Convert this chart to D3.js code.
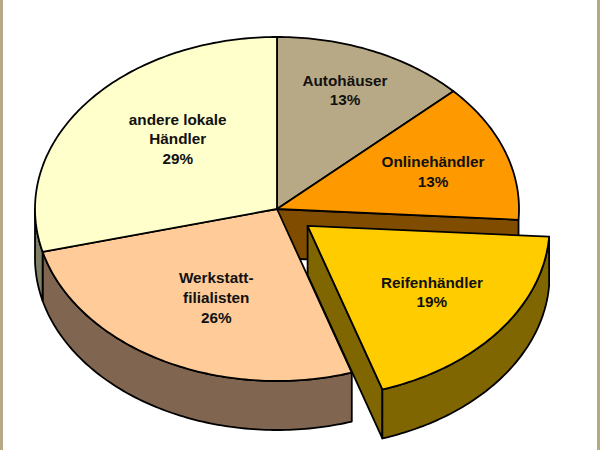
<!DOCTYPE html>
<meta charset="utf-8">
<head>
<style>
body { margin: 0; background: #fff; }
text { font: bold 15.3px "Liberation Sans", Arial, sans-serif; fill: #111; text-anchor: middle; }
.edge { stroke: #000; stroke-width: 1.8; stroke-linejoin: round; }
</style>
</head>
<body>
<script src="https://cdnjs.cloudflare.com/ajax/libs/d3/7.8.5/d3.min.js"></script>
<script>
// shares in percent, clockwise from 12 o'clock
const labels = [["Autohäuser"], ["Onlinehändler"], ["Reifenhändler"], ["Werkstatt-", "filialisten"], ["andere lokale", "Händler"]];
const values = [13, 13, 19, 26, 29];
const topColors = ["#b8a986", "#ff9900", "#ffcc00", "#ffcc99", "#ffffcc"];
const wallColors = ["#5c5543", "#804d00", "#806600", "#806650", "#808066"];
const exploded = [0, 0, 0.16, 0, 0];

const width = 600, height = 450;
const depth = 49;

const x = d3.scaleLinear().domain([-1, 1]).range([35, 519]);
const y = d3.scaleLinear().domain([-1, 1]).range([37, 381]);
const line = d3.line();

const slices = d3.pie().sort(null).value(d => d)(values);
slices.forEach((s, i) => {
  const mid = (s.startAngle + s.endAngle) / 2;
  s.ox = exploded[i] * Math.sin(mid);
  s.oy = -exploded[i] * Math.cos(mid);
});

// tilted pie: unit circle squashed by the two scales
function pt(s, r, a, drop) {
  return [x(r * Math.sin(a) + s.ox), y(-r * Math.cos(a) + s.oy) + (drop || 0)];
}
function rim(s, a0, a1, drop) {
  const n = Math.max(2, Math.ceil((a1 - a0) * 60));
  return d3.range(n + 1).map(i => pt(s, 1, a0 + (a1 - a0) * i / n, drop));
}
function topFace(s) {
  return line([pt(s, 0, 0)].concat(rim(s, s.startAngle, s.endAngle))) + "Z";
}
function outerWall(s, a0, a1) {
  return line(rim(s, a0, a1).concat(rim(s, a0, a1, depth).reverse())) + "Z";
}
function radialWall(s, a) {
  return line([pt(s, 0, 0), pt(s, 1, a), pt(s, 1, a, depth), pt(s, 0, 0, depth)]) + "Z";
}

const svg = d3.select("body").append("svg")
  .attr("width", width)
  .attr("height", height)
  .style("display", "block");

// frame strips left and right
svg.selectAll("rect.frame").data([0, width - 3]).join("rect")
  .attr("class", "frame")
  .attr("x", d => d).attr("y", 0)
  .attr("width", 3).attr("height", height)
  .attr("fill", "#b8a986");

const addPath = (d, fill) => svg.append("path").attr("class", "edge").attr("d", d).attr("fill", fill);

// main pie: walls first, then top faces
const online = slices[1], reifen = slices[2], werk = slices[3], andere = slices[4];
addPath(radialWall(online, online.endAngle), wallColors[1]);
addPath(outerWall(werk, werk.startAngle, werk.endAngle), wallColors[3]);
addPath(outerWall(andere, andere.startAngle, 1.5 * Math.PI), wallColors[4]);
slices.filter((s, i) => !exploded[i]).forEach(s => addPath(topFace(s), topColors[s.index]));

// pulled out slice goes on top of everything
addPath(radialWall(reifen, reifen.endAngle), wallColors[2]);
addPath(outerWall(reifen, reifen.startAngle, reifen.endAngle), wallColors[2]);
addPath(topFace(reifen), topColors[2]);

// labels sit on the mid angle, nudged by hand like in the original
const labelR = 0.65;
const nudge = [[5.5, -16], [8, 1], [0, -2], [15, -9], [25, -1]];
slices.forEach((s, i) => {
  const mid = (s.startAngle + s.endAngle) / 2;
  const p = pt(s, labelR, mid);
  const rows = labels[i].concat([values[i] + "%"]);
  const t = svg.append("text")
    .attr("transform", `translate(${p[0] + nudge[i][0]},${p[1] + nudge[i][1]})`);
  rows.forEach((r, j) => {
    t.append("tspan").attr("x", 0).attr("y", (j - (rows.length - 1) / 2) * 19.6 + 5).text(r);
  });
});
</script>
</body>
